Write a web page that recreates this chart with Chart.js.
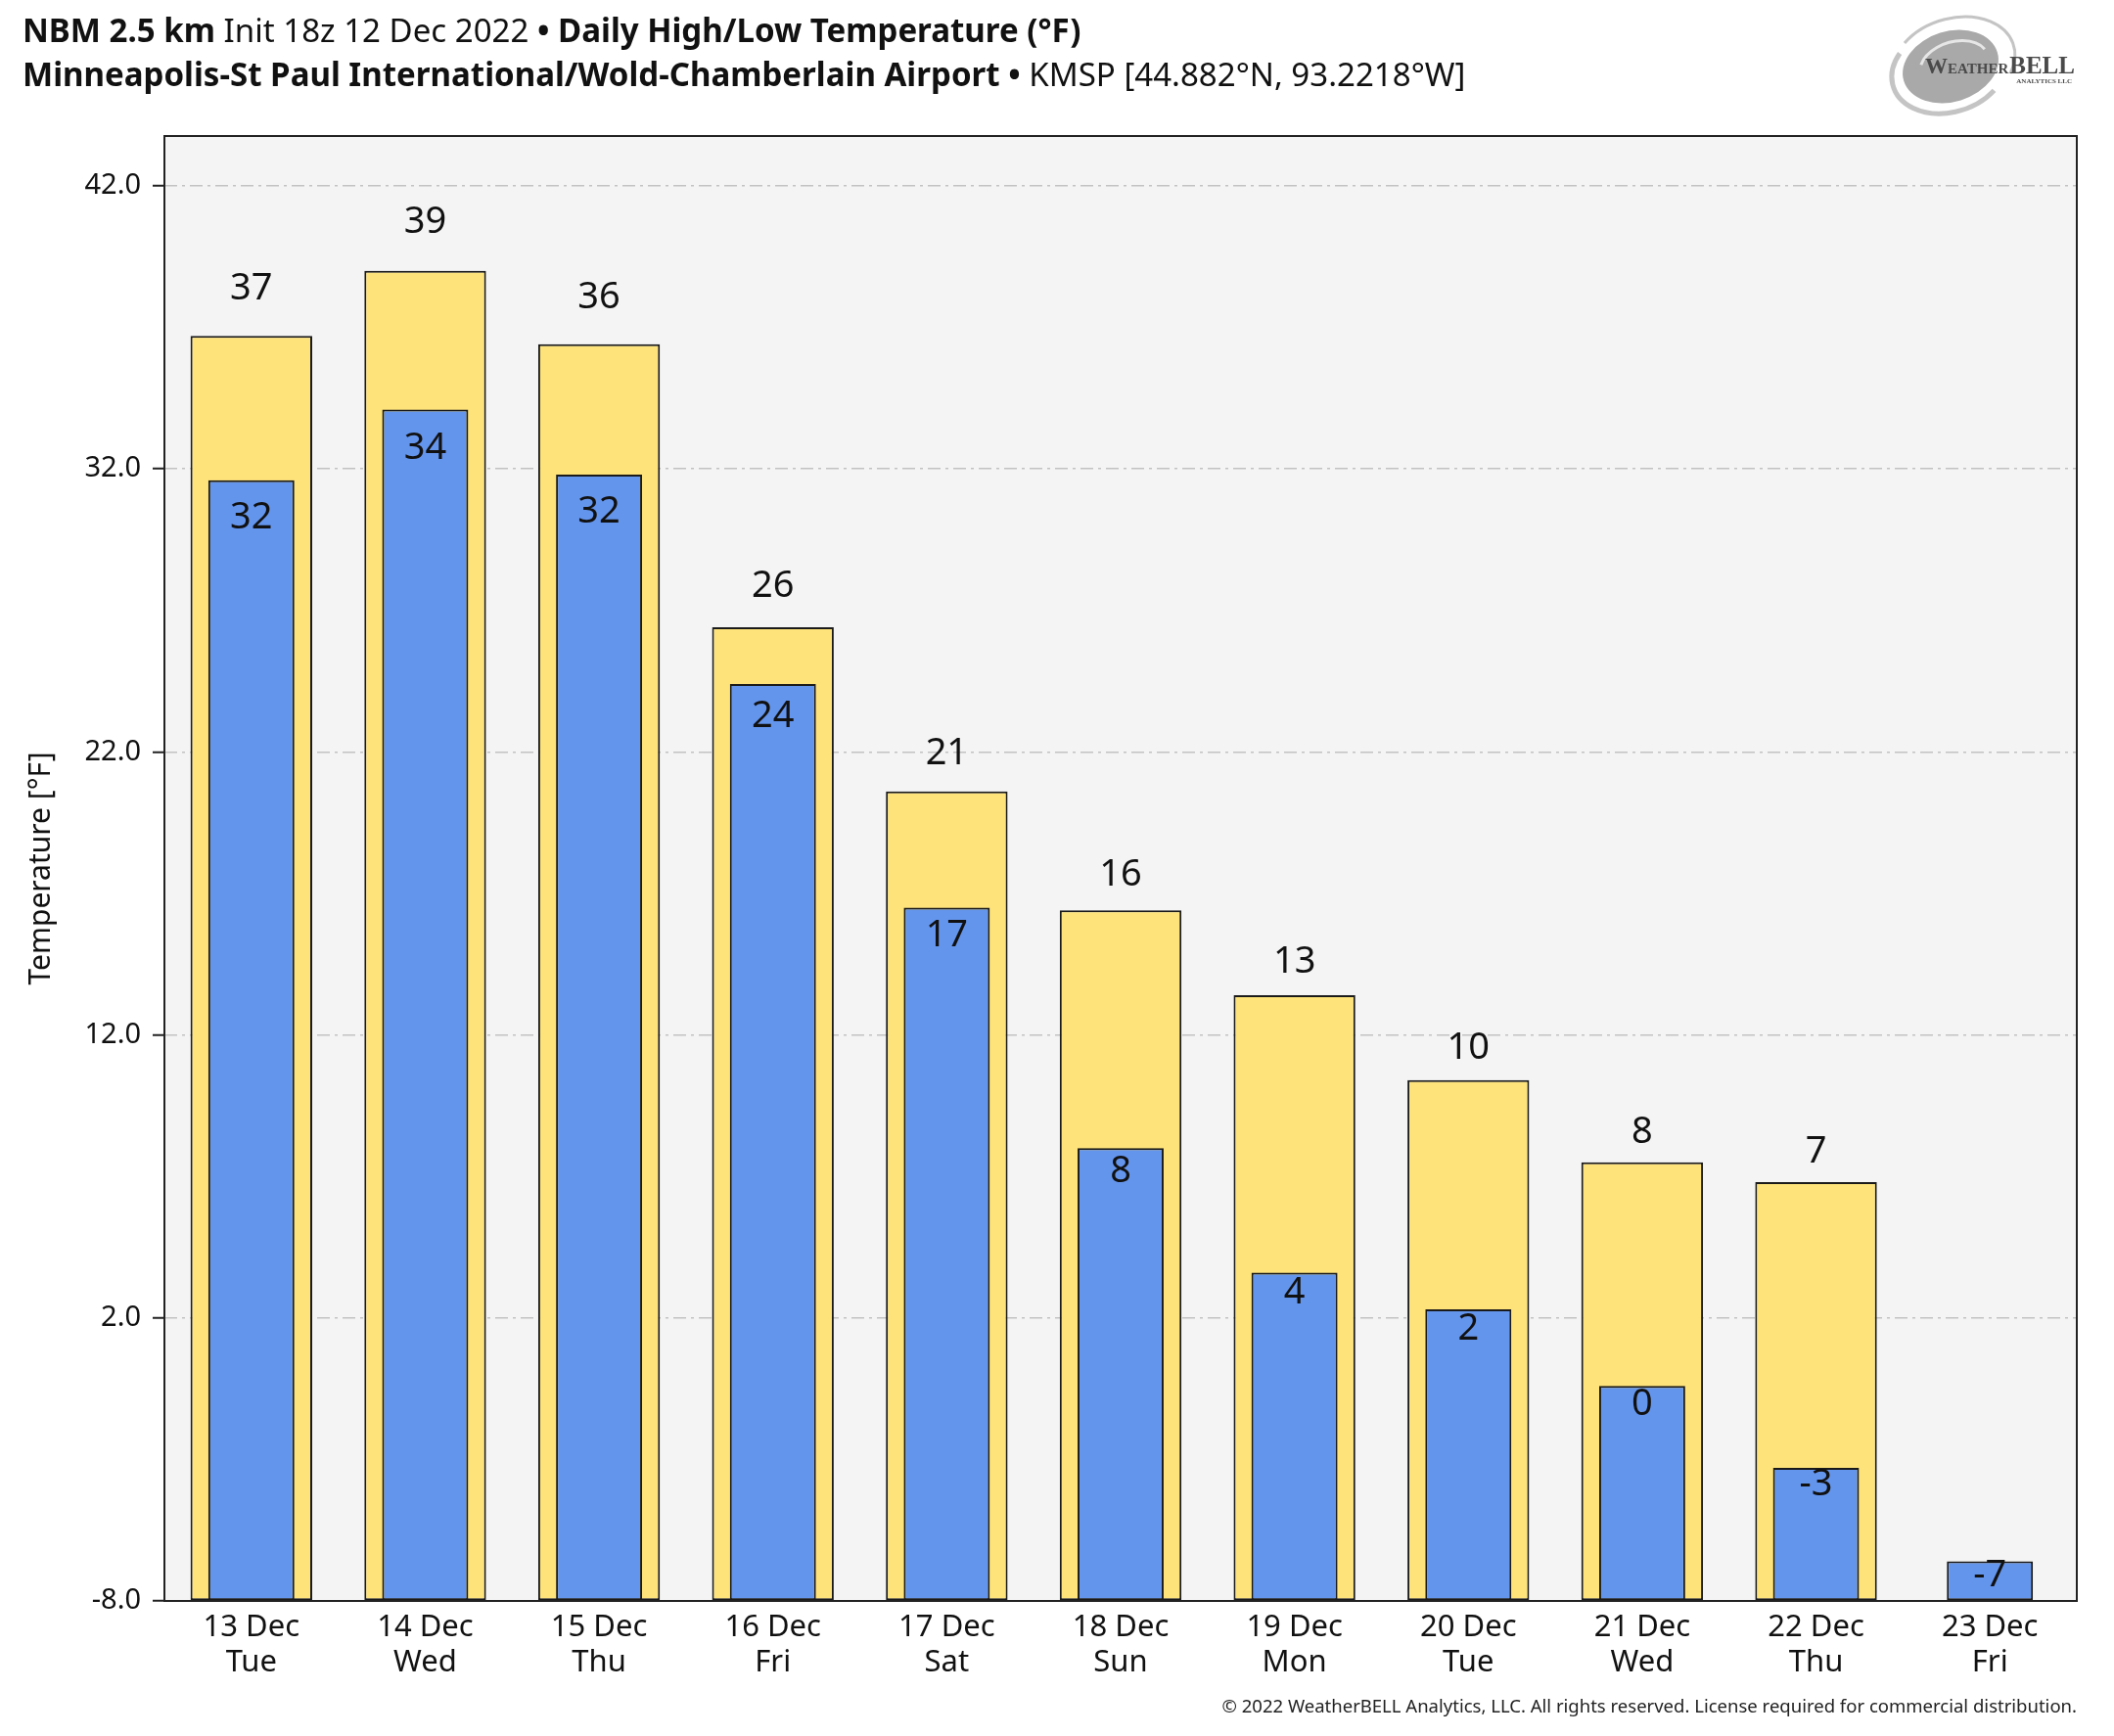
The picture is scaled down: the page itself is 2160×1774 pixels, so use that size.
<!DOCTYPE html>
<html>
<head>
<meta charset="utf-8">
<script src="https://cdn.jsdelivr.net/npm/chart.js@4"></script>
<style>
  body { margin: 0; background: #fff; }
  canvas { display: block; }
</style>
</head>
<body>
<canvas id="chart" width="2160" height="1774"></canvas>
<script>
// data
const dayDates = ['13 Dec','14 Dec','15 Dec','16 Dec','17 Dec','18 Dec','19 Dec','20 Dec','21 Dec','22 Dec','23 Dec'];
const dayNames = ['Tue','Wed','Thu','Fri','Sat','Sun','Mon','Tue','Wed','Thu','Fri'];
const highTemps = [36.7, 39.0, 36.4, 26.4, 20.6, 16.4, 13.4, 10.4, 7.5, 6.8, null];
const lowTemps = [31.6, 34.1, 31.8, 24.4, 16.5, 8.0, 3.6, 2.3, -0.4, -3.3, -6.6];
const yTicks = [-8, 2, 12, 22, 32, 42];
const yMin = -8;
const yMax = 43.76;

const FONT = '"Noto Sans", "Open Sans", sans-serif';

// title pieces (text, weight)
const titleLine1 = [['NBM 2.5 km', 'bold'], [' Init 18z 12 Dec 2022 ', 'normal'], ['\u2022 ', 'bold'], ['Daily High/Low Temperature (\u00B0F)', 'bold']];
const titleLine2 = [['Minneapolis-St Paul International/Wold-Chamberlain Airport', 'bold'], [' \u2022 ', 'bold'], ['KMSP [44.882\u00B0N, 93.2218\u00B0W]', 'normal']];
const footerText = '\u00A9 2022 WeatherBELL Analytics, LLC. All rights reserved. License required for commercial distribution.';

function runsWidth(ctx, runs, size) {
  let w = 0;
  runs.forEach(r => { ctx.font = r[1] + ' ' + size + 'px ' + FONT; w += ctx.measureText(r[0]).width; });
  return w;
}
function drawRuns(ctx, runs, x, y, size) {
  runs.forEach(r => {
    ctx.font = r[1] + ' ' + size + 'px ' + FONT;
    ctx.fillText(r[0], x, y);
    x += ctx.measureText(r[0]).width;
  });
}

const backdrop = {
  id: 'backdrop',
  beforeDraw(chart) {
    const {ctx, chartArea: a} = chart;
    ctx.save();
    ctx.fillStyle = '#ffffff';
    ctx.fillRect(0, 0, chart.width, chart.height);
    ctx.fillStyle = '#f4f4f4';
    ctx.fillRect(a.left, a.top, a.right - a.left, a.bottom - a.top);
    ctx.restore();
  }
};

const barLabels = {
  id: 'barLabels',
  afterDatasetsDraw(chart) {
    const {ctx, chartArea: a} = chart;
    ctx.save();
    ctx.font = '38px ' + FONT;
    ctx.fillStyle = '#111';
    ctx.textAlign = 'center';
    ctx.textBaseline = 'middle';
    // label gap grows a little with bar height, as in the original
    chart.getDatasetMeta(0).data.forEach((bar, i) => {
      if (highTemps[i] == null) return;
      const h = bar.base - bar.y;
      ctx.fillText(String(Math.round(highTemps[i])), bar.x, bar.y - (22 + 0.02 * h));
    });
    chart.getDatasetMeta(1).data.forEach((bar, i) => {
      const h = bar.base - bar.y;
      ctx.fillText(String(Math.round(lowTemps[i]) || 0), bar.x, bar.y + (14 + 0.021 * h));
    });
    // plot frame
    ctx.strokeStyle = '#222';
    ctx.lineWidth = 2;
    ctx.strokeRect(a.left, a.top, a.right - a.left, a.bottom - a.top);
    ctx.restore();
  }
};

const decorations = {
  id: 'decorations',
  afterDraw(chart) {
    const ctx = chart.ctx;
    ctx.save();
    ctx.fillStyle = '#111';
    ctx.textBaseline = 'middle';
    ctx.textAlign = 'left';
    // fit title size so the second line spans like the reference
    const size = 30 * 1475 / runsWidth(ctx, titleLine2, 30);
    drawRuns(ctx, titleLine1, 23, 34, size);
    drawRuns(ctx, titleLine2, 23, 79, size);

    // footer
    ctx.font = '20px ' + FONT;
    const fs = 20 * 874 / ctx.measureText(footerText).width;
    ctx.font = fs + 'px ' + FONT;
    ctx.textAlign = 'right';
    ctx.fillStyle = '#222';
    ctx.fillText(footerText, 2122, 1745);

    // logo
    ctx.save();
    ctx.translate(1993, 68);
    ctx.rotate(-0.3);
    ctx.fillStyle = '#a9a9a9';
    ctx.beginPath();
    ctx.ellipse(0, 0, 50, 36, 0, 0, Math.PI * 2);
    ctx.fill();
    ctx.strokeStyle = '#c4c4c4';
    ctx.lineWidth = 5;
    ctx.beginPath();
    ctx.ellipse(-2, 2, 60, 44, 0, 0.9, 3.9);
    ctx.stroke();
    ctx.lineWidth = 3;
    ctx.beginPath();
    ctx.ellipse(4, -2, 64, 46, 0, 4.0, 6.9);
    ctx.stroke();
    ctx.strokeStyle = '#e6e6e6';
    ctx.lineWidth = 3;
    ctx.beginPath();
    ctx.ellipse(4, 0, 36, 24, 0, 3.6, 6.0);
    ctx.stroke();
    ctx.restore();
    ctx.fillStyle = '#4a4a4a';
    ctx.textAlign = 'left';
    ctx.textBaseline = 'alphabetic';
    let x = 1967;
    ctx.font = 'bold 23px "Liberation Serif", serif';
    ctx.fillText('W', x, 75); x += ctx.measureText('W').width;
    ctx.font = 'bold 15px "Liberation Serif", serif';
    ctx.fillText('EATHER', x, 75); x += ctx.measureText('EATHER').width + 1;
    ctx.font = 'bold 25px "Liberation Serif", serif';
    ctx.fillText('BELL', x, 75);
    ctx.font = 'bold 7px "Liberation Serif", serif';
    ctx.textAlign = 'right';
    ctx.fillText('ANALYTICS LLC', 2117, 85);
    ctx.restore();
  }
};

new Chart(document.getElementById('chart'), {
  type: 'bar',
  data: {
    labels: dayDates.map((d, i) => [d, dayNames[i]]),
    datasets: [
      {
        label: 'High',
        data: highTemps,
        backgroundColor: '#fee37a',
        borderColor: '#1a1a1a',
        borderWidth: 2,
        borderSkipped: false,
        grouped: false,
        categoryPercentage: 1,
        barPercentage: 0.70,
        base: yMin,
        order: 2
      },
      {
        label: 'Low',
        data: lowTemps,
        backgroundColor: '#6495ed',
        borderColor: '#1a1a1a',
        borderWidth: 2,
        borderSkipped: false,
        grouped: false,
        categoryPercentage: 1,
        barPercentage: 0.495,
        base: yMin,
        order: 1
      }
    ]
  },
  options: {
    responsive: false,
    animation: false,
    devicePixelRatio: 1,
    layout: { padding: { top: 139, right: 38, left: 0, bottom: 0 } },
    plugins: { legend: { display: false }, tooltip: { enabled: false } },
    scales: {
      x: {
        offset: true,
        grid: { display: false },
        border: { display: false },
        ticks: { font: { size: 31, family: FONT, lineHeight: 1.16 }, color: '#111', padding: 1, maxRotation: 0, autoSkip: false },
        afterFit: s => { s.height = 138; }
      },
      y: {
        min: yMin,
        max: yMax,
        afterBuildTicks: s => { s.ticks = yTicks.map(v => ({ value: v })); },
        ticks: { font: { size: 29, family: FONT }, color: '#111', padding: 12, callback: v => v.toFixed(1) },
        grid: { color: '#c2c2c2', lineWidth: 1.5, tickColor: '#222', tickLength: 12, tickWidth: 2 },
        border: { display: false, dash: [13, 5, 3, 5] },
        title: { display: true, text: 'Temperature [\u00B0F]', font: { size: 30, family: FONT }, color: '#111', padding: { top: 24, bottom: 0 } },
        afterFit: s => { s.width = 168; }
      }
    }
  },
  plugins: [backdrop, barLabels, decorations]
});
</script>
</body>
</html>
